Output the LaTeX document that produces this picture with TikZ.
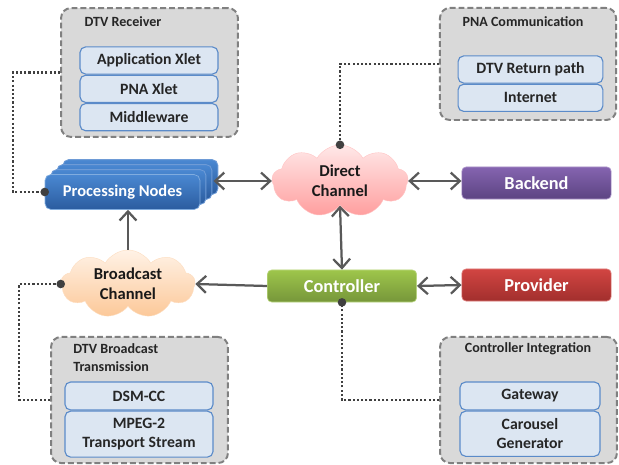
\documentclass[tikz,border=0pt]{standalone}
\usepackage{fontspec}
\setmainfont{Carlito}
\usetikzlibrary{arrows.meta,shapes.symbols,shadows,positioning,calc}
\definecolor{groupfill}{HTML}{D9D9D9}
\definecolor{groupedge}{HTML}{808080}
\definecolor{layerfill}{HTML}{DCE6F2}
\definecolor{layeredge}{HTML}{5B8BC9}
\definecolor{pntop}{HTML}{4A88D2}
\definecolor{pnbot}{HTML}{2B5C9F}
\definecolor{pnedge}{HTML}{6E9BD6}
\definecolor{betop}{HTML}{8564B0}
\definecolor{bebot}{HTML}{5C4482}
\definecolor{cttop}{HTML}{9EC64B}
\definecolor{ctbot}{HTML}{76963A}
\definecolor{prtop}{HTML}{D24542}
\definecolor{prbot}{HTML}{A22F2D}
\definecolor{dctop}{HTML}{FFE8E8}
\definecolor{dcbot}{HTML}{FF9E9E}
\definecolor{bctop}{HTML}{FFF2E6}
\definecolor{bcbot}{HTML}{FCC898}
\definecolor{linkgray}{HTML}{595959}
\definecolor{tiegray}{HTML}{404040}
\tikzset{
    group/.style={
        draw=groupedge, fill=groupfill,
        line width=1.4pt, dash pattern=on 4.2pt off 2.1pt,
        rounded corners=7pt, inner sep=0pt
    },
    grouptitle/.style={
        font=\bfseries\fontsize{10}{12.5}\selectfont, text=black!85, inner sep=0pt
    },
    layer/.style={
        draw=layeredge, fill=layerfill, line width=0.8pt,
        rounded corners=4pt, inner sep=0pt, align=center,
        font=\bfseries\fontsize{11.2}{13.5}\selectfont, text=black!85
    },
    block/.style={
        draw=#1top!70!white, line width=0.5pt,
        top color=#1top, bottom color=#1bot,
        rounded corners=3pt, inner sep=0pt,
        minimum width=3.73cm, minimum height=0.8cm,
        font=\bfseries\fontsize{13}{15}\selectfont, text=white
    },
    channel/.style={
        cloud, cloud puffs=9, cloud puff arc=120, aspect=1.9,
        top color=#1top, bottom color=#1bot, draw=#1bot!60!white, line width=0.3pt,
        inner sep=0pt, align=center,
        font=\bfseries\fontsize{11.8}{14.5}\selectfont, text=black!90
    },
    pncopy/.style={
        general shadow={shadow xshift=#1*4.25pt, shadow yshift=#1*3.55pt,
            top color=pntop, bottom color=pnbot, draw=pnedge, line width=0.6pt}
    },
    link/.style={
        draw=linkgray, line width=1.6pt,
        arrows={-Straight Barb[length=6.5pt,width=12pt]}
    },
    biglink/.style={
        link, arrows={Straight Barb[length=6.5pt,width=12pt]-Straight Barb[length=6.5pt,width=12pt]}
    },
    tie/.style={
        draw=tiegray, line width=1.5pt, dash pattern=on 1.5pt off 1.5pt,
        -{Circle[length=6pt]}, shorten >=-3pt
    }
}

\begin{document}
\begin{tikzpicture}[x=0.025cm, y=-0.025cm]
\useasboundingbox (0,0) rectangle (619,465);

% DTV receiver
\node[group, minimum width=4.42cm, minimum height=3.22cm] (rx) at (149.5,72.5) {};
\node[grouptitle] (rxt) at (123,22) {DTV Receiver};
\node[layer, minimum width=3.45cm, minimum height=0.68cm] (rxa) at (149,60.5) {Application Xlet};
\node[layer, minimum width=3.45cm, minimum height=0.68cm, below=0pt of rxa] (rxb) {PNA Xlet};
\node[layer, minimum width=3.45cm, minimum height=0.68cm, below=0pt of rxb] (rxc) {Middleware};

% PNA communication
\node[group, minimum width=4.4cm, minimum height=2.8cm] (pna) at (528,64) {};
\node[grouptitle] (pnat) at (523,22) {PNA Communication};
\node[layer, minimum width=3.62cm, minimum height=0.68cm] (pnaa) at (530.5,69.5) {DTV Return path};
\node[layer, minimum width=3.62cm, minimum height=0.68cm, below=0pt of pnaa] (pnab) {Internet};

% main blocks
\node[block=pn, minimum width=3.87cm, minimum height=0.87cm, rounded corners=4pt,
    pncopy=3, pncopy=2, pncopy=1,
    font=\bfseries\fontsize{11.7}{14}\selectfont] (pn) at (122.5,192) {Processing Nodes};
\node[channel=dc, minimum width=3.4cm, minimum height=1.8cm] (dc) at (340,181) {Direct\\Channel};
\node[block=be] (be) at (536.5,183) {Backend};
\node[block=ct] (ct) at (342,286) {Controller};
\node[block=pr] (pr) at (536.5,285) {Provider};
\node[channel=bc, minimum width=3.35cm, minimum height=1.7cm] (bc) at (128,284) {Broadcast\\Channel};

% DTV broadcast transmission
\node[group, minimum width=4.42cm, minimum height=3.15cm] (dbt) at (139.5,400) {};
\node[grouptitle, anchor=west, align=left] (dbtt) at (73,357.5) {DTV Broadcast\\Transmission};
\node[layer, minimum width=3.7cm, minimum height=0.7cm] (dbta) at (139,396) {DSM-CC};
\node[layer, minimum width=3.7cm, minimum height=1.15cm, below=0pt of dbta] (dbtb) {MPEG-2\\Transport Stream};

% controller integration
\node[group, minimum width=4.42cm, minimum height=3.15cm] (cig) at (528.5,400) {};
\node[grouptitle] (cigt) at (528,349) {Controller Integration};
\node[layer, minimum width=3.5cm, minimum height=0.7cm] (ciga) at (530,396) {Gateway};
\node[layer, minimum width=3.5cm, minimum height=1.13cm, below=0pt of ciga] (cigb) {Carousel\\Generator};

% connectors
\draw[biglink] ([xshift=0.33cm]pn.east |- dc.west) -- (dc.west);
\draw[biglink] (dc.east) -- (dc.east -| be.west);
\draw[biglink] (dc.south) -- (ct.north);
\draw[biglink] (ct.east) -- (pr.west);
\draw[link] (ct.west) -- (bc.east);
\draw[link] (bc.north) -- (bc.north |- pn.south);

% dotted ties
\draw[tie] (rx.west) -- ++(-47,0) |- (pn.west);
\draw[tie] (pna.west) -| (dc.north);
\draw[tie] (dbt.west) -- ++(-31,0) |- (bc.west);
\draw[tie] (cig.west) -| (ct.south);
\end{tikzpicture}
\end{document}
